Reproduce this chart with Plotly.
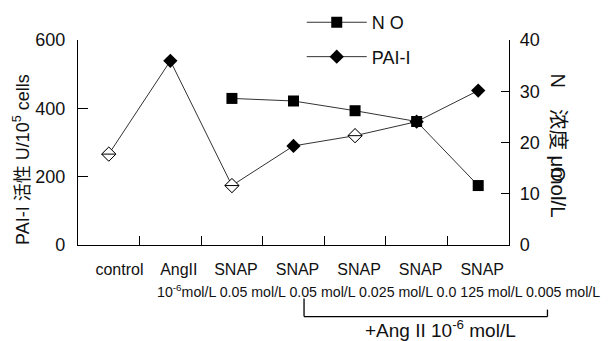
import plotly.graph_objects as go

categories = ["control", "AngII", "SNAP", "SNAP ", "SNAP  ", "SNAP   ", "SNAP    "]
cat_labels = ["\u00a0\u00a0\u00a0control", "\u00a0\u00a0AngII", "SNAP", "SNAP", "SNAP", "SNAP", "SNAP"]
pai_values = [266, 539, 174, 290, 320, 361, 452]
pai_hollow = [True, False, True, False, True, False, False]
no_values = [None, None, 28.6, 28.1, 26.2, 24.1, 11.6]
left_ticks = [0, 200, 400, 600]
right_ticks = [0, 10, 20, 30, 40]
dose_text = "10<sup>-6</sup>mol/L 0.05 mol/L 0.05 mol/L 0.025 mol/L 0.0 125 mol/L 0.005 mol/L"
bracket_text = "+Ang II 10<sup>-6</sup> mol/L"

# page has an 8px body margin; figure sized to fit the window exactly
OFF = 8
W, H = 614 - OFF, 341 - OFF
PLOT_L, PLOT_R, PLOT_T, PLOT_B = 78, 509.5, 40, 245.3  # page pixels
L = PLOT_L - OFF
T = PLOT_T - OFF
R = W - (PLOT_R - OFF)
B = H - (PLOT_B - OFF)
PW, PH = PLOT_R - PLOT_L, PLOT_B - PLOT_T


def px_x(x):
    return (x - PLOT_L) / PW


def px_y(y):
    return (PLOT_B - y) / PH


FONT = "Liberation Sans, Arial, Noto Sans CJK SC, sans-serif"

fig = go.Figure()

fig.add_trace(go.Scatter(
    x=categories, y=no_values, name="N O", mode="lines+markers",
    yaxis="y2", legendgroup="no", legendrank=1,
    line=dict(color="#333333", width=1),
    marker=dict(symbol="square", size=11, color="black", line=dict(width=0)),
    connectgaps=False,
))

fig.add_trace(go.Scatter(
    x=categories, y=pai_values, name="PAI-I", mode="lines+markers",
    legendgroup="pai", legendrank=2,
    line=dict(color="#333333", width=1),
    marker=dict(symbol="diamond", size=11, color="black", line=dict(width=0)),
))

hollow_x = [c for c, h in zip(categories, pai_hollow) if h]
hollow_y = [v for v, h in zip(pai_values, pai_hollow) if h]
fig.add_trace(go.Scatter(
    x=hollow_x, y=hollow_y, mode="markers", showlegend=False,
    marker=dict(symbol="diamond", size=11, color="white", line=dict(color="black", width=1)),
))
fig.add_trace(go.Scatter(
    x=hollow_x, y=hollow_y, mode="markers", showlegend=False,
    marker=dict(symbol="line-ew", size=10, line=dict(color="black", width=1)),
))

fig.update_layout(
    width=W, height=H,
    margin=dict(l=L, r=R, t=T, b=B, pad=0, autoexpand=False),
    paper_bgcolor="white", plot_bgcolor="white",
    font=dict(family=FONT, size=18, color="#111111"),
    showlegend=True,
    legend=dict(
        x=px_x(302), y=px_y(4), xanchor="left", yanchor="top",
        xref="paper", yref="paper",
        font=dict(size=18), tracegroupgap=8, bgcolor="rgba(0,0,0,0)",
        itemwidth=60,
    ),
    xaxis=dict(
        type="category", range=[-0.5, 6.5], tickmode="array",
        tickvals=categories, ticktext=cat_labels, tickangle=0,
        showline=True, linecolor="black", linewidth=1.3,
        ticks="inside", tickson="boundaries", ticklen=9, tickwidth=1.3, tickcolor="black",
        tickfont=dict(size=16), showgrid=False, zeroline=False,
        ticklabelstandoff=10, ticklabelshift=4,
    ),
    yaxis=dict(
        range=[0, 600], tickvals=left_ticks, showline=True, linecolor="black", linewidth=1.3,
        ticks="inside", ticklen=10, tickwidth=1.3, tickcolor="black",
        showgrid=False, zeroline=False, tickfont=dict(size=18), ticklabelstandoff=8,
    ),
    yaxis2=dict(
        range=[0, 40], tickvals=right_ticks, overlaying="y", side="right",
        showline=True, linecolor="black", linewidth=1.3,
        ticks="inside", ticklen=8, tickwidth=1.3, tickcolor="black",
        showgrid=False, zeroline=False, tickfont=dict(size=18), ticklabelstandoff=6,
    ),
)

# axis titles
fig.add_annotation(
    text="PAI-I 活性 U/10<sup>5</sup> cells", x=px_x(22), y=px_y(160),
    xref="paper", yref="paper", textangle=-90, showarrow=False,
    font=dict(size=18), xanchor="center", yanchor="middle",
)
fig.add_annotation(
    text="N", x=px_x(572), y=px_y(72), xref="paper", yref="paper",
    textangle=90, showarrow=False, font=dict(size=20),
)
fig.add_annotation(
    text="浓度 μmol/L", x=px_x(572), y=px_y(164), xref="paper", yref="paper",
    textangle=90, showarrow=False, font=dict(size=20.5),
)
fig.add_annotation(
    text="O", x=px_x(572), y=px_y(175), xref="paper", yref="paper",
    textangle=90, showarrow=False, font=dict(size=20),
)

# dose row
fig.add_annotation(
    text=dose_text, x=px_x(155), y=px_y(291), xref="paper", yref="paper",
    xanchor="left", yanchor="middle", showarrow=False, font=dict(size=14.2),
)

# bracket
bl, br, btop_l, btop_r, bbot = 304.3, 548, 299, 310, 317
for x0, y0, x1, y1 in [(bl, btop_l, bl, bbot), (bl, bbot, br, bbot), (br, btop_r, br, bbot)]:
    fig.add_shape(type="line", xref="paper", yref="paper",
                  x0=px_x(x0), y0=px_y(y0), x1=px_x(x1), y1=px_y(y1),
                  line=dict(color="black", width=1.3))

fig.add_annotation(
    text=bracket_text, x=px_x(441), y=px_y(329), xref="paper", yref="paper",
    xanchor="center", yanchor="middle", showarrow=False, font=dict(size=19),
)

fig.write_html("out.html")
